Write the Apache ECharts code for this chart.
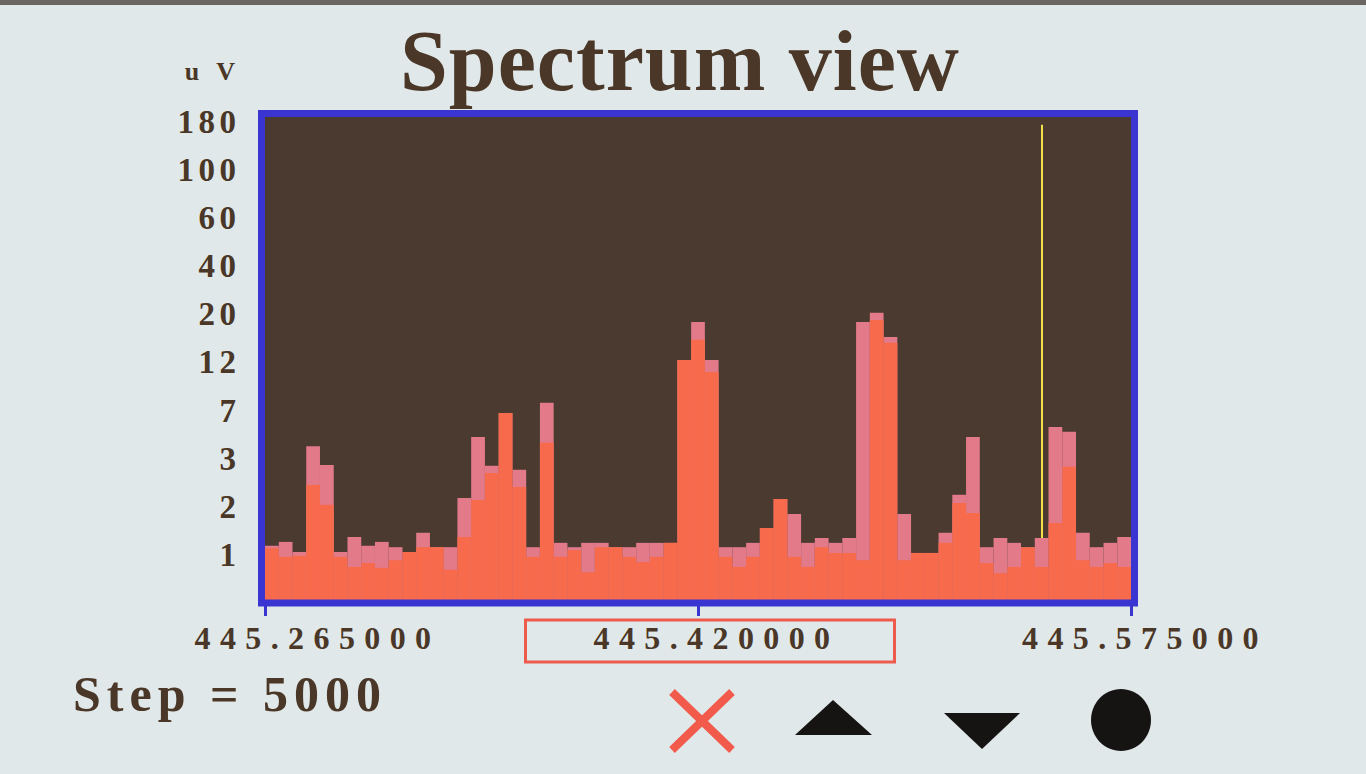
<!DOCTYPE html>
<html>
<head>
<meta charset="utf-8">
<script src="https://cdn.jsdelivr.net/npm/echarts@6/dist/echarts.min.js"></script>
<style>
  html, body { margin: 0; padding: 0; background: #e0e8ea; }
  #chart { width: 1366px; height: 774px; }
  /* wide bitmap-style spacing of the device font */
  #chart text[style*="86px"] { letter-spacing: 1px; }
  #chart text[style*="50px"] { letter-spacing: 6px; }
  #chart text[style*="33px"] { letter-spacing: 4.5px; }
  #chart text[style*="32px"] { letter-spacing: 9.4px; }
  #chart text[style*="26px"] { letter-spacing: 17px; }
</style>
</head>
<body>
<div id="chart"></div>
<script>
// ---------- data ----------
// Frequency bins (MHz), step 5000 Hz
const frequencies = [
  445.265,445.270,445.275,445.280,445.285,445.290,445.295,445.300,445.305,445.310,
  445.315,445.320,445.325,445.330,445.335,445.340,445.345,445.350,445.355,445.360,
  445.365,445.370,445.375,445.380,445.385,445.390,445.395,445.400,445.405,445.410,
  445.415,445.420,445.425,445.430,445.435,445.440,445.445,445.450,445.455,445.460,
  445.465,445.470,445.475,445.480,445.485,445.490,445.495,445.500,445.505,445.510,
  445.515,445.520,445.525,445.530,445.535,445.540,445.545,445.550,445.555,445.560,
  445.565,445.570,445.575
];
// Levels in steps of the device's non-linear uV scale (1 step = one tick label)
const peakHoldLevel = [
  1.19,1.27,1.06,3.26,2.87,1.06,1.37,1.19,1.27,1.16,
  1.06,1.46,1.16,1.16,2.18,3.45,2.85,3.95,2.77,1.16,
  4.16,1.25,1.16,1.25,1.25,1.16,1.16,1.25,1.25,1.25,
  5.05,5.84,5.05,1.16,1.16,1.25,1.56,2.16,1.85,1.25,
  1.35,1.25,1.35,5.84,6.03,5.53,1.85,1.04,1.04,1.46,
  2.25,3.45,1.16,1.35,1.25,1.16,1.35,3.66,3.56,1.46,
  1.16,1.25,1.37
];
const liveLevel = [
  1.14,0.96,0.98,2.45,2.04,0.96,0.75,0.83,0.73,0.89,
  1.06,1.16,1.16,0.69,1.37,2.14,2.70,3.95,2.41,0.96,
  3.33,0.96,1.10,0.64,1.16,1.16,0.96,0.85,0.96,1.25,
  5.05,5.47,4.80,0.96,0.75,0.96,1.56,2.16,0.96,0.75,
  1.16,1.04,1.04,0.89,5.88,5.41,0.89,1.04,1.04,1.25,
  2.08,1.87,0.83,0.62,0.75,1.16,0.75,1.66,2.83,0.89,
  0.75,0.83,0.75
];
const yTickLabels = ['1','2','3','7','12','20','40','60','100','180'];
const xTickValues = [445.265, 445.420, 445.575];
const cursorIndex = 56;
const cursorTopLevel = 9.94;
const stepHz = 5000;

// ---------- chart ----------
const FONT = 'Liberation Serif';
const TXT = '#4a3727';
const chart = echarts.init(document.getElementById('chart'), null, { renderer: 'svg' });

const tokenBase = { fontFamily: FONT, fontWeight: 'bold', fontSize: 32, color: TXT, lineHeight: 32 };

chart.setOption({
  animation: false,
  backgroundColor: '#e0e8ea',
  title: [
    { text: 'Spectrum view', left: 395, top: 13,
      textStyle: { fontFamily: FONT, fontWeight: 'bold', fontSize: 86, color: TXT } },
    { text: 'Step = ' + stepHz, left: 68, top: 664,
      textStyle: { fontFamily: FONT, fontWeight: 'bold', fontSize: 50, color: TXT } }
  ],
  grid: {
    left: 265, right: 235, top: 117, bottom: 171,
    show: true, backgroundColor: '#4a3a30', borderWidth: 0
  },
  xAxis: [
    { type: 'category', data: frequencies, show: false, boundaryGap: true },
    { type: 'value', position: 'bottom', min: 445.265, max: 445.575,
      axisLine: { show: false },
      splitLine: { show: false },
      axisTick: { show: true, length: 13, customValues: xTickValues,
        lineStyle: { color: '#3a35d0', width: 3 } },
      axisLabel: {
        customValues: xTickValues,
        margin: 22,
        formatter: function (v) {
          const i = xTickValues.findIndex(t => Math.abs(t - v) < 1e-6);
          const s = v.toFixed(6);
          if (i === 0) return '{l|' + s + '}';
          if (i === 1) return '{sp| }{box|' + s + '}';
          return '{r|' + s + '}';
        },
        rich: {
          l: Object.assign({}, tokenBase, { padding: [1.5, 0, 8.5, 105] }),
          r: Object.assign({}, tokenBase, { padding: [1.5, 0, 8.5, 28] }),
          sp: Object.assign({}, tokenBase, { width: 24, padding: [1.5, 0, 8.5, 0] }),
          box: Object.assign({}, tokenBase, { padding: [1.5, 102, 8.5, 115],
            borderColor: '#ee5b4c', borderWidth: 3 })
        }
      }
    }
  ],
  yAxis: {
    type: 'value', min: 0, max: 10.1, interval: 1,
    name: 'uV', nameLocation: 'end', nameGap: 46,
    nameTextStyle: { fontFamily: FONT, fontWeight: 'bold', fontSize: 26, color: TXT,
      align: 'right', verticalAlign: 'middle', padding: [0, 13, 0, 0] },
    axisLine: { show: false }, axisTick: { show: false }, splitLine: { show: false },
    axisLabel: {
      margin: 24.5,
      fontFamily: FONT, fontWeight: 'bold', fontSize: 33, color: TXT,
      formatter: function (v) {
        const k = Math.round(v);
        return k >= 1 && k <= yTickLabels.length ? yTickLabels[k - 1] : '';
      }
    }
  },
  series: [
    { name: 'Peak hold', type: 'bar', xAxisIndex: 0, data: peakHoldLevel,
      barCategoryGap: '0%', barGap: '-100%',
      itemStyle: { color: '#e27a8a' },
      markLine: {
        silent: true, symbol: 'none', label: { show: false },
        lineStyle: { color: '#f2e04a', width: 2, type: 'solid' },
        data: [[
          { coord: [cursorIndex, peakHoldLevel[cursorIndex]] },
          { coord: [cursorIndex, cursorTopLevel] }
        ]]
      }
    },
    { name: 'Live', type: 'bar', xAxisIndex: 0, data: liveLevel,
      barCategoryGap: '0%', barGap: '-100%',
      itemStyle: { color: '#f76a4c' } }
  ],
  graphic: [
    { type: 'rect', z: 100, shape: { x: 0, y: 0, width: 1366, height: 5 },
      style: { fill: '#6b6661' } },
    { type: 'rect', z: 100, shape: { x: 261.5, y: 113.5, width: 873, height: 489.5 },
      style: { fill: null, stroke: '#3a35d0', lineWidth: 7 } },
    { type: 'line', z: 100, shape: { x1: 672, y1: 692, x2: 732, y2: 750 },
      style: { stroke: '#f25a4c', lineWidth: 8 } },
    { type: 'line', z: 100, shape: { x1: 732, y1: 692, x2: 672, y2: 750 },
      style: { stroke: '#f25a4c', lineWidth: 8 } },
    { type: 'polygon', z: 100, shape: { points: [[795, 735], [872, 735], [833, 700]] },
      style: { fill: '#161412' } },
    { type: 'polygon', z: 100, shape: { points: [[944, 713], [1020, 713], [982, 749]] },
      style: { fill: '#161412' } },
    { type: 'ellipse', z: 100, shape: { cx: 1121, cy: 720, rx: 30, ry: 31 },
      style: { fill: '#161412' } }
  ]
});
</script>
</body>
</html>
